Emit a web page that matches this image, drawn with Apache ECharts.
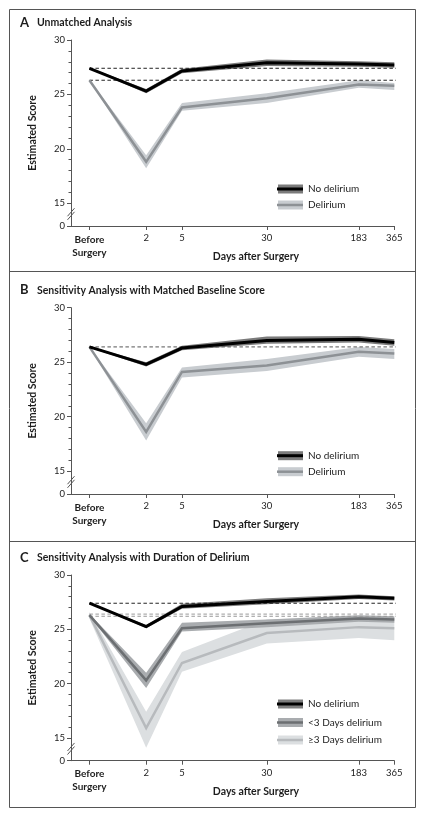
<!DOCTYPE html>
<html><head><meta charset="utf-8">
<script src="https://cdn.jsdelivr.net/npm/echarts@6/dist/echarts.min.js"></script>
<style>html,body{margin:0;padding:0;background:#fff}#c{width:424px;height:818px}</style>
</head><body><div id="c"></div>
<script>
// ---------- data ----------
const days = [0, 2, 5, 30, 183, 365];
const dayLabels = ['Before Surgery', '2', '5', '30', '183', '365'];
const yTickValues = [15, 20, 25, 30];
const yBreakLabel = '0';

// Panel A: Unmatched Analysis
const noDelA = [27.4, 25.3, 27.15, 27.9, 27.8, 27.7];
const noDelA_lo = [27.35, 25.1, 26.95, 27.6, 27.55, 27.45];
const noDelA_hi = [27.45, 25.5, 27.35, 28.2, 28.05, 27.95];
const delA = [26.3, 18.8, 23.8, 24.65, 25.9, 25.8];
const delA_lo = [26.25, 18.2, 23.5, 24.2, 25.6, 25.4];
const delA_hi = [26.35, 19.4, 24.2, 25.1, 26.3, 26.05];
const refA = [27.4, 26.3];

// Panel B: Matched Baseline Score
const noDelB = [26.4, 24.8, 26.3, 27.0, 27.1, 26.8];
const noDelB_lo = [26.35, 24.6, 26.1, 26.7, 26.8, 26.5];
const noDelB_hi = [26.45, 25.0, 26.5, 27.35, 27.4, 27.1];
const delB = [26.4, 18.6, 24.1, 24.7, 25.95, 25.8];
const delB_lo = [26.35, 17.8, 23.6, 24.2, 25.5, 25.3];
const delB_hi = [26.45, 19.4, 24.5, 25.3, 26.4, 26.2];
const refB = [26.4];

// Panel C: Duration of Delirium
const noDelC = [27.4, 25.25, 27.1, 27.55, 28.0, 27.85];
const noDelC_lo = [27.35, 25.1, 26.9, 27.3, 27.8, 27.65];
const noDelC_hi = [27.45, 25.4, 27.35, 27.85, 28.2, 28.05];
const shortC = [26.3, 20.3, 25.1, 25.55, 26.0, 25.9];
const shortC_lo = [26.2, 19.6, 24.8, 25.2, 25.7, 25.6];
const shortC_hi = [26.4, 21.0, 25.6, 25.9, 26.3, 26.2];
const longC = [26.3, 15.9, 21.9, 24.65, 25.2, 25.1];
const longC_lo = [26.0, 14.1, 21.1, 23.7, 24.2, 24.0];
const longC_hi = [26.6, 17.4, 22.9, 25.9, 26.1, 26.1];
const refC = [27.4, 26.4, 26.2];

// ---------- styling ----------
const FONT = 'Lato, "Open Sans", sans-serif';
const TXT = '#1d1d1d';
const AX = '#555';
const Y_MIN = 12.9, Y_MAX = 30;
const X_MIN = 0.7, X_MAX = 366;
const xPos = d => d + 1; // axis is log10(days + 1)

const panels = [
  { letter: 'A', title: 'Unmatched Analysis', top: 40, height: 186,
    refs: refA, refColors: ['#222', '#222'],
    groups: [
      { name: 'No delirium', mean: noDelA, lo: noDelA_lo, hi: noDelA_hi, line: '#000', band: '#7b7b7b', w: 3 },
      { name: 'Delirium', mean: delA, lo: delA_lo, hi: delA_hi, line: '#8d9195', band: '#c8ccd0', w: 2.5 }
    ], legendRows: [149, 165] },
  { letter: 'B', title: 'Sensitivity Analysis with Matched Baseline Score', top: 307.7, height: 186.3,
    refs: refB, refColors: ['#555'],
    groups: [
      { name: 'No delirium', mean: noDelB, lo: noDelB_lo, hi: noDelB_hi, line: '#000', band: '#7b7b7b', w: 3 },
      { name: 'Delirium', mean: delB, lo: delB_lo, hi: delB_hi, line: '#8d9195', band: '#c8ccd0', w: 2.5 }
    ], legendRows: [148, 164] },
  { letter: 'C', title: 'Sensitivity Analysis with Duration of Delirium', top: 575, height: 185.7,
    refs: refC, refColors: ['#222', '#999', '#999'],
    groups: [
      { name: 'No delirium', mean: noDelC, lo: noDelC_lo, hi: noDelC_hi, line: '#000', band: '#7e7e7e', w: 3 },
      { name: '<3 Days delirium', mean: shortC, lo: shortC_lo, hi: shortC_hi, line: '#6c6f72', band: '#a9acaf', w: 2.5 },
      { name: '\u22653 Days delirium', mean: longC, lo: longC_lo, hi: longC_hi, line: '#b7babd', band: '#dcdfe1', w: 2.5 }
    ], legendRows: [129, 147.5, 165] }
];

const GRID_LEFT = 71, GRID_RIGHT = 29.7;

const grids = [], xAxes = [], yAxes = [], series = [];
const majorY = [Y_MIN].concat(yTickValues);
const minorY = [];
for (let v = 16; v < 30; v++) if (v % 5 !== 0) minorY.push(v);

panels.forEach((p, pi) => {
  grids.push({ left: GRID_LEFT, right: GRID_RIGHT, top: p.top, height: p.height });
  xAxes.push({
    type: 'log', logBase: 10, gridIndex: pi, min: X_MIN, max: X_MAX,
    axisLine: { show: true, lineStyle: { color: AX, width: 1 } },
    axisTick: { show: true, length: 4, lineStyle: { color: AX }, customValues: days.map(xPos) },
    splitLine: { show: false }, minorTick: { show: false },
    axisLabel: {
      customValues: days.map(xPos), margin: 7, color: TXT, fontFamily: FONT, fontSize: 9.5,
      formatter: v => {
        let best = 0, bd = Infinity;
        days.forEach((d, i) => { const dd = Math.abs(Math.log(xPos(d)) - Math.log(v)); if (dd < bd) { bd = dd; best = i; } });
        if (best === 0) return '{b|Before}\n{b|Surgery}';
        return dayLabels[best];
      },
      rich: { b: { fontWeight: 'bold', fontFamily: FONT, fontSize: 10, color: TXT, lineHeight: 13 } }
    }
  });
  yAxes.push({
    type: 'value', gridIndex: pi, min: Y_MIN, max: Y_MAX, position: 'left',
    name: 'Estimated Score', nameLocation: 'middle', nameGap: 33,
    nameTextStyle: { fontFamily: FONT, fontWeight: 'bold', fontSize: 10.5, color: TXT },
    axisLine: { show: true, lineStyle: { color: AX, width: 1 } },
    axisTick: { show: true, length: 4, lineStyle: { color: AX }, customValues: majorY },
    splitLine: { show: false },
    axisLabel: {
      customValues: majorY, margin: 6, color: TXT, fontFamily: FONT, fontSize: 9.5,
      formatter: v => (v < 14 ? yBreakLabel : String(Math.round(v)))
    }
  });
  yAxes.push({
    type: 'value', gridIndex: pi, min: Y_MIN, max: Y_MAX, position: 'left', offset: 0,
    axisLine: { show: false },
    axisTick: { show: true, length: 2.5, lineStyle: { color: AX }, customValues: minorY },
    axisLabel: { show: false }, splitLine: { show: false }
  });

  // reference dashed lines
  p.refs.forEach((r, ri) => {
    series.push({
      type: 'line', xAxisIndex: pi, yAxisIndex: 2 * pi, silent: true, symbol: 'none', z: 2,
      data: [[xPos(days[0]), r], [xPos(days[days.length - 1]) * 1.12, r]],
      lineStyle: { color: p.refColors[ri], width: 1, type: [3.5, 2.5] },
      clip: false
    });
  });

  // confidence bands as polygons through the axes' scales (last group first so first is on top)
  const gs = p.groups.slice().reverse();
  gs.forEach(g => {
    series.push({
      type: 'custom', xAxisIndex: pi, yAxisIndex: 2 * pi, silent: true, z: 1,
      data: [[xPos(days[0]), g.mean[0]]],
      renderItem: (params, api) => {
        const pts = [];
        g.hi.forEach((v, i) => pts.push(api.coord([xPos(days[i]), v])));
        for (let i = g.lo.length - 1; i >= 0; i--) pts.push(api.coord([xPos(days[i]), g.lo[i]]));
        return { type: 'polygon', shape: { points: pts }, style: { fill: g.band } };
      }
    });
  });
  gs.forEach(g => {
    series.push({
      type: 'line', xAxisIndex: pi, yAxisIndex: 2 * pi, symbol: 'none', silent: true, z: 3,
      data: g.mean.map((v, i) => [xPos(days[i]), v]),
      lineStyle: { color: g.line, width: g.w, join: 'miter' }
    });
  });
});

const chart = echarts.init(document.getElementById('c'), null, { renderer: 'canvas' });
chart.setOption({
  animation: false,
  backgroundColor: '#fff',
  grid: grids, xAxis: xAxes, yAxis: yAxes, series
});

// ---------- decorations ----------
const graphics = [];
const BL = 9.5, BR = 415.5, BT = 9.5, BB = 807.5;
graphics.push({ type: 'rect', shape: { x: BL, y: BT, width: BR - BL, height: BB - BT }, style: { fill: null, stroke: '#555', lineWidth: 1 }, silent: true });
[271.5, 541.5].forEach(y => graphics.push({ type: 'line', shape: { x1: BL, y1: y, x2: BR, y2: y }, style: { stroke: '#555', lineWidth: 1 }, silent: true }));

panels.forEach((p, pi) => {
  const ty = p.top - 17.5;
  graphics.push({ type: 'text', x: 20, y: ty, style: { text: p.letter, fontFamily: FONT, fontWeight: 'bold', fontSize: 13, fill: TXT, verticalAlign: 'middle' }, silent: true });
  graphics.push({ type: 'text', x: 37, y: ty, style: { text: p.title, fontFamily: FONT, fontWeight: 'bold', fontSize: 10.5, fill: TXT, verticalAlign: 'middle' }, silent: true });
  const bottom = p.top + p.height;
  graphics.push({ type: 'text', x: 256, y: bottom + 31, style: { text: 'Days after Surgery', fontFamily: FONT, fontWeight: 'bold', fontSize: 10.5, fill: TXT, align: 'center', verticalAlign: 'middle' }, silent: true });
  const bp = chart.convertToPixel({ xAxisIndex: pi, yAxisIndex: 2 * pi }, [X_MIN, 14.0]);
  [-1.8, 1.8].forEach(o => graphics.push({
    type: 'line', shape: { x1: bp[0] - 3.5, y1: bp[1] + 4 + o, x2: bp[0] + 3.5, y2: bp[1] - 4 + o },
    style: { stroke: AX, lineWidth: 1 }, silent: true, z: 10
  }));
  p.groups.forEach((g, gi) => {
    const y = p.top + p.legendRows[gi];
    graphics.push({ type: 'rect', shape: { x: 278, y: y - 4.5, width: 25, height: 9 }, style: { fill: g.band }, silent: true });
    graphics.push({ type: 'line', shape: { x1: 277, y1: y, x2: 303, y2: y }, style: { stroke: g.line, lineWidth: g.w }, silent: true });
    graphics.push({ type: 'text', x: 308, y: y, style: { text: g.name, fontFamily: FONT, fontSize: 10, fill: TXT, verticalAlign: 'middle' }, silent: true });
  });
});
chart.setOption({ graphic: graphics });
</script>
</body></html>
